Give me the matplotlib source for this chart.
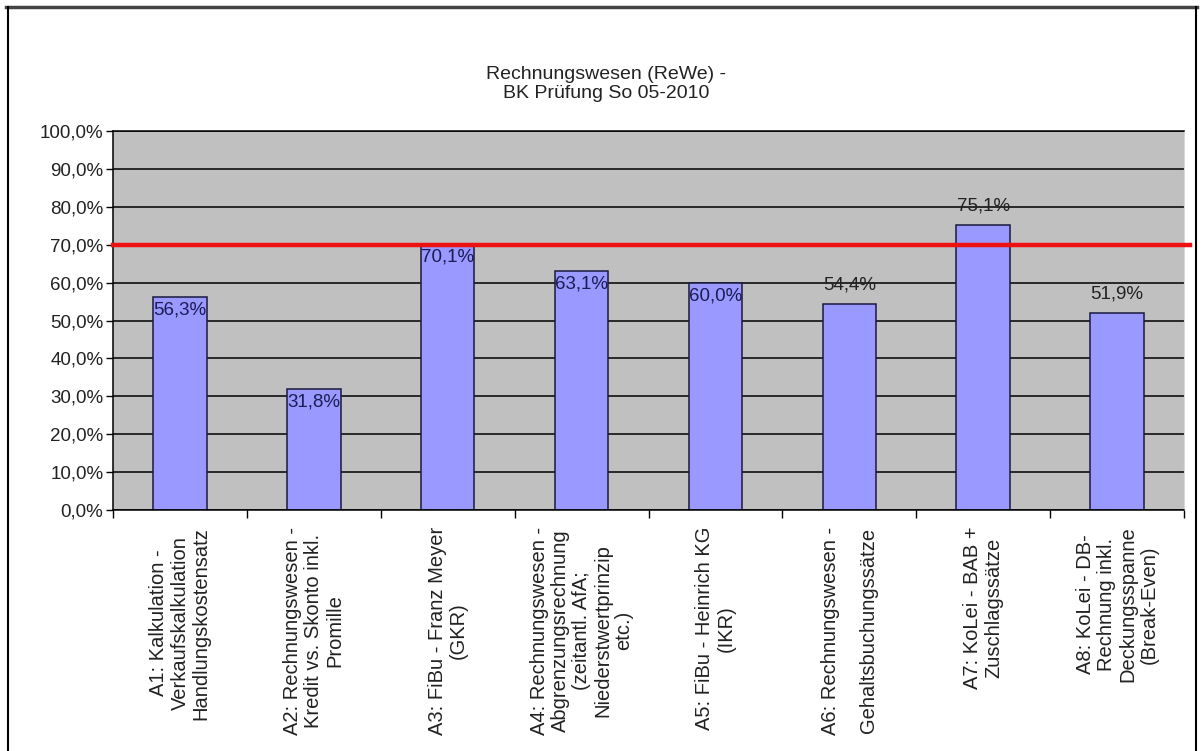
import numpy as np
import matplotlib.pyplot as plt
from matplotlib.lines import Line2D

# Ergebnisse je Aufgabe in Prozent
aufgaben = [
    "A1: Kalkulation -\nVerkaufskalkulation\nHandlungskostensatz",
    "A2: Rechnungswesen -\nKredit vs. Skonto inkl.\nPromille",
    "A3: FiBu - Franz Meyer\n(GKR)",
    "A4: Rechnungswesen -\nAbgrenzungsrechnung\n(zeitantl. AfA;\nNiederstwertprinzip\netc.)",
    "A5: FiBu - Heinrich KG\n(IKR)",
    "A6: Rechnungswesen -\nGehaltsbuchungssätze",
    "A7: KoLei - BAB +\nZuschlagssätze",
    "A8: KoLei - DB-\nRechnung inkl.\nDeckungsspanne\n(Break-Even)",
]
ergebnis = [56.3, 31.8, 70.1, 63.1, 60.0, 54.4, 75.1, 51.9]
label_innen = [True, True, True, True, True, False, False, False]
grenze = 70.0
y_ticks = [0, 10, 20, 30, 40, 50, 60, 70, 80, 90, 100]

plt.rcParams['font.family'] = ['Liberation Sans', 'DejaVu Sans']

W, H = 1201, 751
fig = plt.figure(figsize=(W / 100, H / 100), dpi=100)
ax = fig.add_axes([113 / W, 1 - 510 / H, (1184 - 113) / W, (510 - 131) / H])
ax.set_facecolor('#c0c0c0')

x = np.arange(len(ergebnis))
ax.set_axisbelow(True)
ax.grid(axis='y', color='black', linewidth=1.1)
bars = ax.bar(x, ergebnis, width=0.4, color='#9999ff', edgecolor='#1a1a40', linewidth=1.1, zorder=2)

# Bestehensgrenze 70 %
ax.plot([-0.5, 7.545], [grenze, grenze], color='#ee1111', linewidth=3.2, zorder=3, clip_on=False)

for xi, v, innen in zip(x, ergebnis, label_innen):
    txt = f"{v:.1f}%".replace('.', ',')
    if innen:
        ax.annotate(txt, (xi, v), xytext=(0, -13), textcoords='offset pixels',
                    ha='center', va='center', fontsize=13.5, color='#1c1c55', zorder=4)
    else:
        ax.annotate(txt, (xi, v), xytext=(0, 19), textcoords='offset pixels',
                    ha='center', va='center', fontsize=13.5, color='#222222', zorder=4)

ax.set_xlim(-0.5, 7.5)
ax.set_ylim(0, 100)
ax.set_yticks(y_ticks)
ax.set_yticklabels([f"{t:.1f}%".replace('.', ',') for t in y_ticks], fontsize=13.5, color='#222222')
ax.tick_params(axis='y', length=5, width=1, pad=2, direction='out')

ax.set_xticks(x)
ax.set_xticklabels(aufgaben, rotation=90, fontsize=14.5, color='#222222', ha='center', va='top')
ax.set_xticks(np.arange(-0.5, 8, 1), minor=True)
ax.tick_params(axis='x', which='major', length=0, pad=12)
ax.tick_params(axis='x', which='minor', length=6, width=1, direction='out')
for lbl in ax.get_xticklabels():
    lbl.set_multialignment('center')
    lbl.set_linespacing(1.15)
ax.get_xticklabels()[5].set_linespacing(2.3)

for side in ['left', 'bottom', 'top']:
    ax.spines[side].set_color('black')
    ax.spines[side].set_linewidth(1.1)
ax.spines['right'].set_color('#d8d8d8')

fig.text(606 / W, 1 - 84 / H, "Rechnungswesen (ReWe) -\nBK Prüfung So 05-2010",
         ha='center', va='center', fontsize=14, color='#222222', linespacing=1.1)

# Rahmen um das Diagramm
fig.add_artist(Line2D([6 / W, 1197 / W], [1 - 7 / H, 1 - 7 / H], color='#444444', linewidth=2.5))
fig.add_artist(Line2D([8 / W, 8 / W], [0, 1 - 7 / H], color='black', linewidth=1.5))
fig.add_artist(Line2D([1196 / W, 1196 / W], [0, 1 - 7 / H], color='black', linewidth=1.5))

fig.savefig('out.png', dpi=100)
